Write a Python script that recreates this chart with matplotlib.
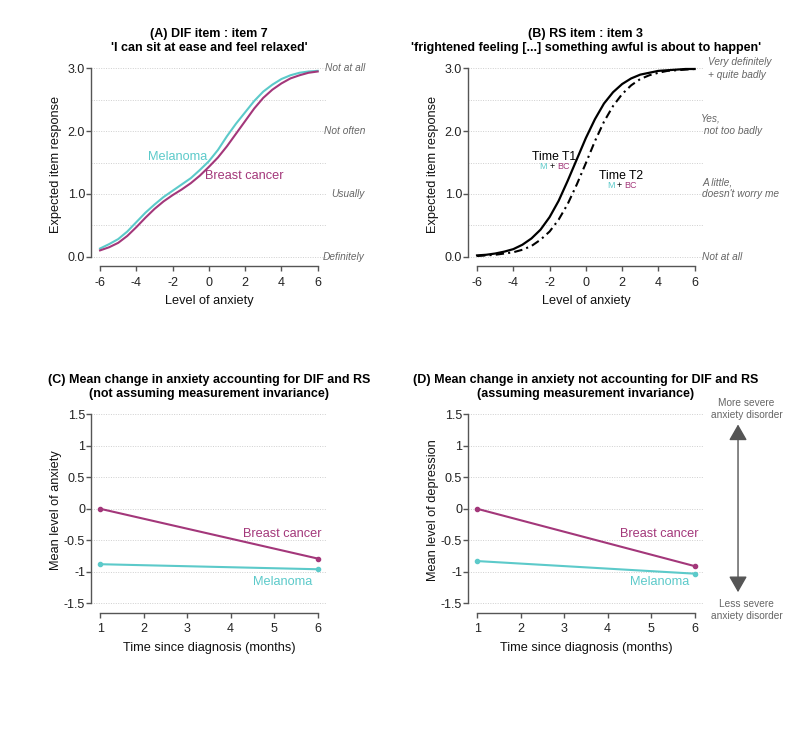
import numpy as np
import matplotlib.pyplot as plt
from matplotlib.patches import FancyArrowPatch

plt.rcParams['font.family'] = ['Liberation Sans', 'DejaVu Sans']
plt.rcParams['axes.unicode_minus'] = False

CYAN = '#5ccaca'
PLUM = '#a3377a'
GREY = '#666666'

# latent anxiety scale (panels A and B)
theta = [-6, -5.5, -5, -4.5, -4, -3.5, -3, -2.5, -2, -1.5, -1, -0.5, 0,
         0.5, 1, 1.5, 2, 2.5, 3, 3.5, 4, 4.5, 5, 5.5, 6]

# (A) DIF item 7, expected response by group
dif_melanoma = [0.13, 0.20, 0.28, 0.40, 0.55, 0.70, 0.83, 0.95, 1.05, 1.15, 1.25,
                1.38, 1.52, 1.70, 1.92, 2.12, 2.30, 2.48, 2.63, 2.74, 2.83,
                2.89, 2.93, 2.95, 2.96]
dif_breast = [0.10, 0.15, 0.22, 0.33, 0.47, 0.62, 0.76, 0.88, 0.98, 1.07, 1.17,
              1.29, 1.43, 1.58, 1.76, 1.96, 2.16, 2.36, 2.53, 2.66, 2.76,
              2.84, 2.89, 2.93, 2.95]

# (B) RS item 3, expected response at T1 and T2
rs_t1 = [0.02, 0.03, 0.05, 0.08, 0.12, 0.19, 0.29, 0.43, 0.63, 0.89, 1.21,
         1.55, 1.89, 2.19, 2.44, 2.62, 2.75, 2.84, 2.90, 2.93, 2.96,
         2.97, 2.98, 2.99, 2.99]
rs_t2 = [0.01, 0.02, 0.03, 0.05, 0.07, 0.11, 0.17, 0.27, 0.40, 0.59, 0.84,
         1.15, 1.49, 1.84, 2.15, 2.40, 2.59, 2.73, 2.83, 2.89, 2.93,
         2.96, 2.97, 2.98, 2.99]

dif_levels = ['Definitely', 'Usually', 'Not often', 'Not at all']
dif_level_y = [0, 1, 2, 3]
rs_levels = ['Not at all', "A little,\ndoesn't worry me", 'Yes,\n not too badly',
             'Very definitely\n+ quite badly']
rs_level_y = [0.0, 1.09, 2.1, 3.0]
rs_level_x = [0.993, 0.993, 0.99, 1.018]

# (C) and (D) mean level over time
months = [1, 6]
c_breast = [0.0, -0.79]
c_melanoma = [-0.88, -0.96]
d_breast = [0.0, -0.91]
d_melanoma = [-0.83, -1.03]

fig = plt.figure(figsize=(7.94, 7.33), dpi=100)
axA = fig.add_axes([0.1146, 0.637, 0.2969, 0.2783])
axB = fig.add_axes([0.5894, 0.637, 0.2969, 0.2783])
axC = fig.add_axes([0.1146, 0.1641, 0.2969, 0.2793])
axD = fig.add_axes([0.5894, 0.1641, 0.2969, 0.2793])


def style(ax, xlim, ylim, xticks, yticks, ylabels, xlabel, ylabel, ypad):
    ax.set_xlim(*xlim)
    ax.set_ylim(*ylim)
    ax.spines['top'].set_visible(False)
    ax.spines['right'].set_visible(False)
    for s in ['left', 'bottom']:
        ax.spines[s].set_color('#555555')
        ax.spines[s].set_linewidth(1)
    ax.spines['left'].set_bounds(yticks[0], yticks[-1])
    ax.spines['bottom'].set_bounds(xticks[0], xticks[-1])
    ax.set_xticks(xticks)
    ax.set_yticks(yticks)
    ax.set_yticklabels(ylabels)
    ax.tick_params(axis='x', length=3.6, width=1, color='#555555', pad=4,
                   labelsize=9, labelcolor='#222222')
    ax.tick_params(axis='y', length=3.6, width=1, color='#555555', pad=0.6,
                   labelsize=9, labelcolor='#222222')
    ax.set_xlabel(xlabel, fontsize=9.2, labelpad=4.5, color='#111111')
    ax.set_ylabel(ylabel, fontsize=9.2, labelpad=ypad, color='#111111')
    ax.patch.set_visible(False)


def grid(ax, ys):
    for y in ys:
        ax.axhline(y, color='#cfcfcf', lw=0.7, ls=(0, (1, 1.5)), zorder=0)


def title(ax, line1, line2):
    ax.text(0.5, 1.139, line1, transform=ax.transAxes, ha='center', va='center',
            fontsize=9, fontweight='bold')
    ax.text(0.5, 1.067, line2, transform=ax.transAxes, ha='center', va='center',
            fontsize=9, fontweight='bold')


# ---- (A)
grid(axA, np.arange(0, 3.01, 0.5))
axA.plot(theta, dif_melanoma, color=CYAN, lw=1.5)
axA.plot(theta, dif_breast, color=PLUM, lw=1.5)
axA.text(-1.75, 1.59, 'Melanoma', color=CYAN, fontsize=9.2, ha='center', va='center')
axA.text(-0.19, 1.29, 'Breast cancer', color=PLUM, fontsize=9.2, ha='left', va='center')
style(axA, (-6.5, 6.5), (-0.15, 3.1), [-6, -4, -2, 0, 2, 4, 6],
      [0, 1, 2, 3], ['0.0', '1.0', '2.0', '3.0'],
      'Level of anxiety', 'Expected item response', 4.5)
for lab, y in zip(dif_levels, dif_level_y):
    axA.text(1.1625, y, lab, transform=axA.get_yaxis_transform(), ha='right',
             va='center', fontsize=7.3, style='italic', color=GREY)
title(axA, '(A) DIF item : item 7', "'I can sit at ease and feel relaxed'")

# ---- (B)
grid(axB, np.arange(0, 3.01, 0.5))
axB.plot(theta, rs_t1, color='black', lw=1.6)
axB.plot(theta, rs_t2, color='black', lw=1.5, ls=(0, (4, 2, 1, 2)))
axB.text(-1.73, 1.59, 'Time T1', fontsize=8.8, ha='center', va='center')
axB.text(1.96, 1.29, 'Time T2', fontsize=8.8, ha='center', va='center')
for (xm, xp, xb, y) in [(-2.34, -1.83, -1.24, 1.44), (1.37, 1.86, 2.46, 1.14)]:
    axB.text(xm, y, 'M', color=CYAN, fontsize=6.5, ha='center', va='center')
    axB.text(xp, y, '+', color='black', fontsize=6.5, ha='center', va='center')
    axB.text(xb, y, 'BC', color=PLUM, fontsize=6.5, ha='center', va='center')
style(axB, (-6.5, 6.5), (-0.15, 3.1), [-6, -4, -2, 0, 2, 4, 6],
      [0, 1, 2, 3], ['0.0', '1.0', '2.0', '3.0'],
      'Level of anxiety', 'Expected item response', 4.5)
for lab, y, x in zip(rs_levels, rs_level_y, rs_level_x):
    axB.text(x, y, lab, transform=axB.get_yaxis_transform(), ha='left',
             va='center', fontsize=7.3, style='italic', color=GREY,
             linespacing=1.3)
title(axB, '(B) RS item : item 3',
      "'frightened feeling [...] something awful is about to happen'")

# ---- (C) and (D)
yt = [-1.5, -1, -0.5, 0, 0.5, 1, 1.5]
ytl = ['-1.5', '-1', '-0.5', '0', '0.5', '1', '1.5']
for ax, br, me, ylab, t1, t2 in [
        (axC, c_breast, c_melanoma, 'Mean level of anxiety',
         '(C) Mean change in anxiety accounting for DIF and RS',
         '(not assuming measurement invariance)'),
        (axD, d_breast, d_melanoma, 'Mean level of depression',
         '(D) Mean change in anxiety not accounting for DIF and RS',
         '(assuming measurement invariance)')]:
    grid(ax, yt)
    ax.plot(months, br, color=PLUM, lw=1.5, marker='o', ms=3)
    ax.plot(months, me, color=CYAN, lw=1.5, marker='o', ms=3)
    ax.text(5.18, -0.40, 'Breast cancer', color=PLUM, fontsize=9.2, ha='center', va='center')
    ax.text(5.19, -1.157, 'Melanoma', color=CYAN, fontsize=9.2, ha='center', va='center')
    style(ax, (0.79, 6.21), (-1.65, 1.6), [1, 2, 3, 4, 5, 6], yt, ytl,
          'Time since diagnosis (months)', ylab, 1.5)
    title(ax, t1, t2)

# severity arrow at the right of (D)
fig.add_artist(FancyArrowPatch((0.9295, 0.1883), (0.9295, 0.4247),
                               transform=fig.transFigure,
                               arrowstyle='<|-|>,head_length=0.7,head_width=0.4',
                               mutation_scale=14, color='#555555', lw=1))
fig.text(0.9404, 0.4425, 'More severe\nanxiety disorder', ha='center', va='center',
         fontsize=7.3, color=GREY, linespacing=1.25)
fig.text(0.9404, 0.1678, 'Less severe\nanxiety disorder', ha='center', va='center',
         fontsize=7.3, color=GREY, linespacing=1.25)

fig.savefig('out.png', dpi=100)
